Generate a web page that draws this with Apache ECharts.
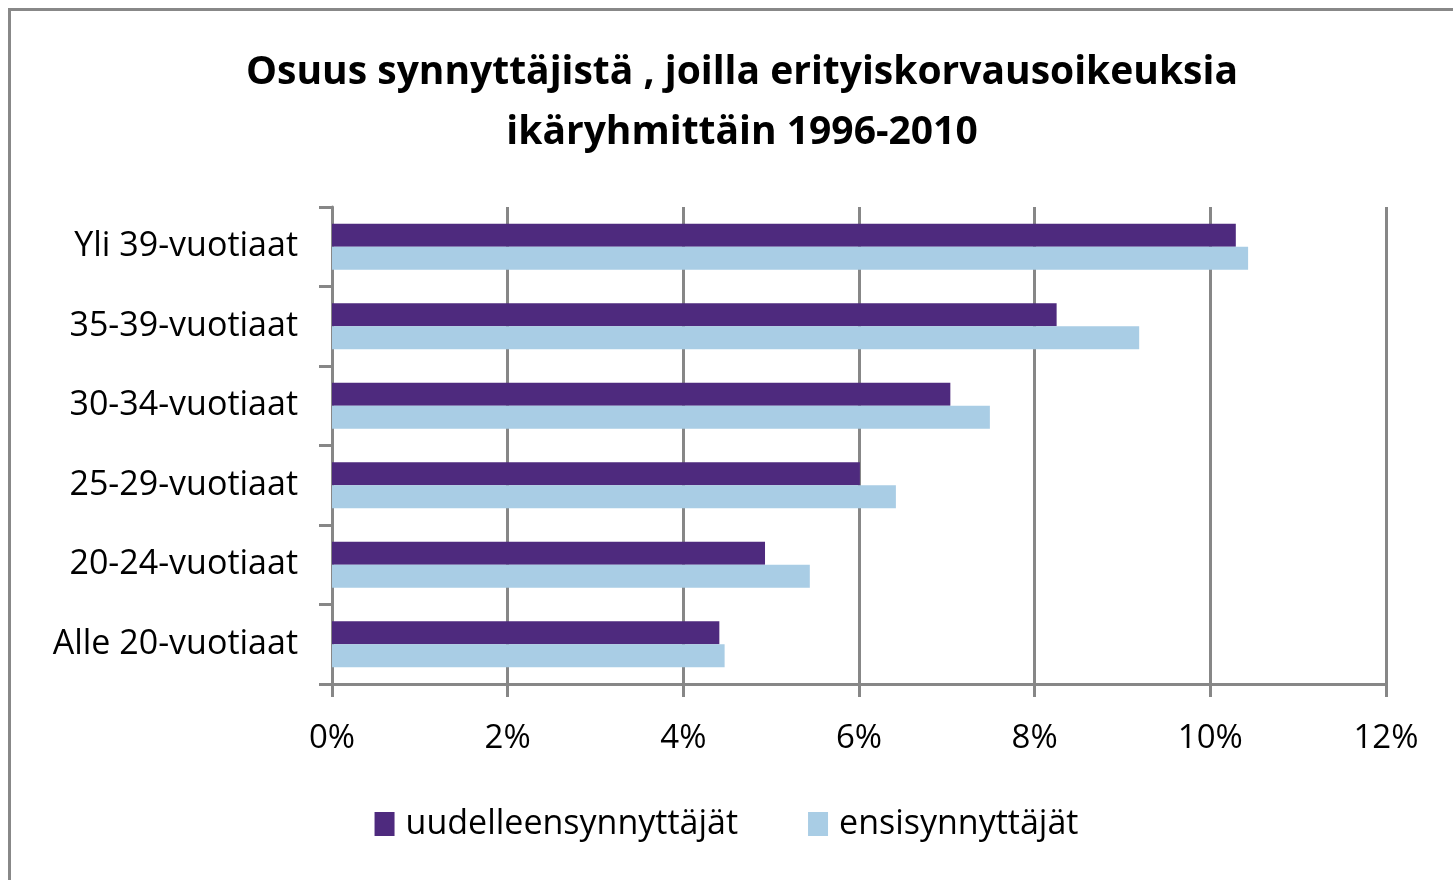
<!DOCTYPE html>
<html>
<head>
<meta charset="utf-8">
<script src="https://cdn.jsdelivr.net/npm/echarts@6/dist/echarts.min.js"></script>
<style>
  html, body { margin: 0; padding: 0; background: #fff; }
  #main { width: 1453px; height: 880px; }
</style>
</head>
<body>
<div id="main"></div>
<script>
// ikäryhmät alhaalta ylös
var ageGroups = ['Alle 20-vuotiaat', '20-24-vuotiaat', '25-29-vuotiaat', '30-34-vuotiaat', '35-39-vuotiaat', 'Yli 39-vuotiaat'];
var uudelleen = [4.41, 4.93, 6.01, 7.04, 8.25, 10.29];
var ensi = [4.47, 5.44, 6.42, 7.49, 9.19, 10.43];
var seriesNames = ['uudelleensynnyttäjät', 'ensisynnyttäjät'];

var myChart = echarts.init(document.getElementById('main'));
var font = '"Open Sans", "DejaVu Sans", sans-serif';

myChart.setOption({
    animation: false,
    backgroundColor: '#fff',
    graphic: [{
        type: 'rect',
        shape: { x: 9.5, y: 9.5, width: 1500, height: 1000 },
        style: { fill: 'none', stroke: '#888', lineWidth: 3 },
        silent: true
    }],
    title: {
        text: 'Osuus synnyttäjistä , joilla erityiskorvausoikeuksia\nikäryhmittäin 1996-2010',
        left: 737,
        textAlign: 'center',
        top: 38,
        textStyle: {
            fontFamily: font,
            fontWeight: 'bold',
            fontSize: 39,
            lineHeight: 60,
            color: '#000'
        }
    },
    legend: {
        bottom: 34,
        left: 'center',
        itemWidth: 20,
        itemHeight: 24,
        itemGap: 70,
        icon: 'rect',
        textStyle: { fontFamily: font, fontSize: 34, color: '#000', padding: [0, 0, 0, 6] },
        data: seriesNames
    },
    grid: {
        left: 332,
        right: 67,
        top: 207,
        bottom: 196
    },
    xAxis: {
        type: 'value',
        min: 0,
        max: 12,
        interval: 2,
        axisLine: { show: true, lineStyle: { color: '#878787', width: 3 } },
        axisTick: { show: true, length: 13, lineStyle: { color: '#878787', width: 3 } },
        splitLine: { show: true, lineStyle: { color: '#878787', width: 3 } },
        axisLabel: {
            margin: 38,
            fontFamily: font,
            fontSize: 33,
            color: '#000',
            formatter: function (v) { return v + '%'; }
        }
    },
    yAxis: {
        type: 'category',
        data: ageGroups,
        axisLine: { show: true, lineStyle: { color: '#878787', width: 3 } },
        axisTick: { show: true, length: 13, lineStyle: { color: '#878787', width: 3 } },
        axisLabel: {
            margin: 34,
            fontFamily: font,
            fontSize: 34,
            color: '#000'
        }
    },
    series: [{
        name: seriesNames[0],
        type: 'bar',
        data: uudelleen,
        barWidth: 23,
        barGap: '0%',
        itemStyle: { color: '#4E2A7E' }
    }, {
        name: seriesNames[1],
        type: 'bar',
        data: ensi,
        barWidth: 23,
        barGap: '0%',
        itemStyle: { color: '#A9CDE5' }
    }]
});
</script>
</body>
</html>
